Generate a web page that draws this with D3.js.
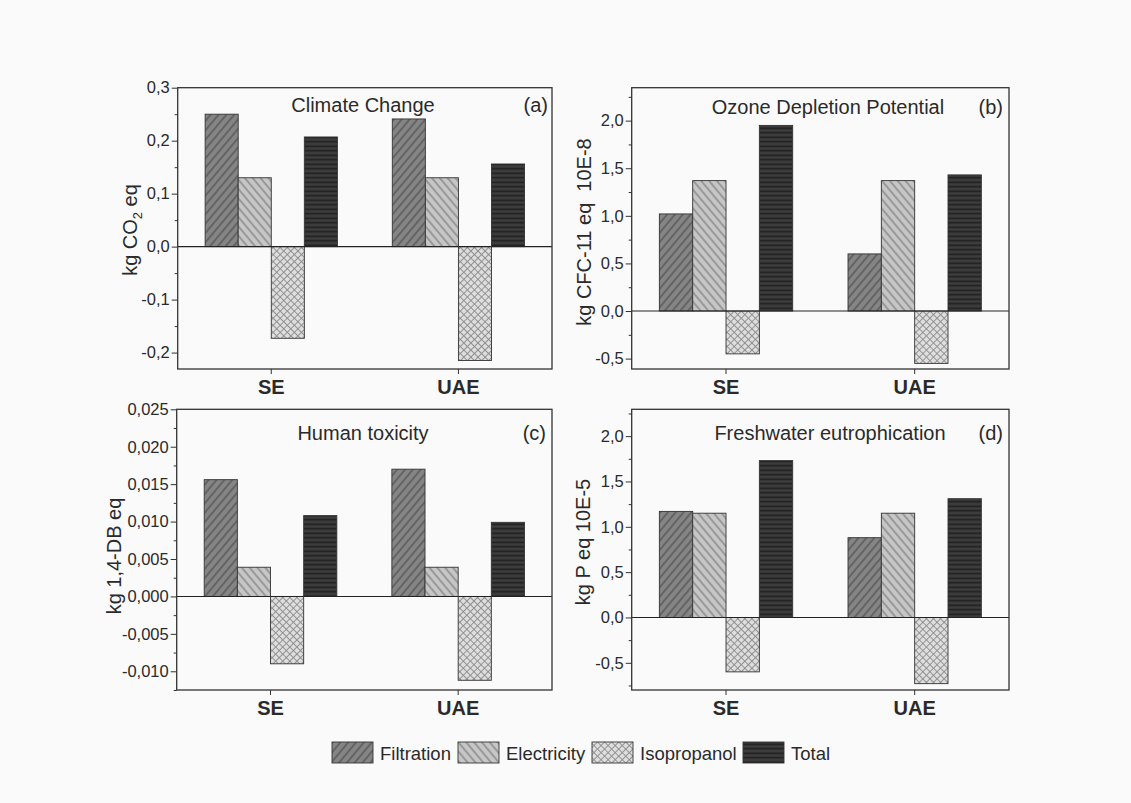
<!DOCTYPE html>
<html>
<head>
<meta charset="utf-8">
<script src="https://cdn.jsdelivr.net/npm/d3@7"></script>
<style>
  body { margin: 0; background: #fafafa; }
  svg { display: block; }
  text { font-family: "Liberation Sans", Arial, sans-serif; fill: #2a2a2a; }
</style>
</head>
<body>
<script>
// data
const categories = ["SE", "UAE"];
const series = ["Filtration", "Electricity", "Isopropanol", "Total"];

// values per category, in series order
const climateChange = [[0.250, 0.130, -0.173, 0.207], [0.241, 0.130, -0.215, 0.156]];
const ozoneDepletion = [[1.02, 1.37, -0.45, 1.95], [0.60, 1.37, -0.55, 1.43]];
const humanToxicity = [[0.0156, 0.0039, -0.0090, 0.0108], [0.0170, 0.0039, -0.0112, 0.0099]];
const freshwaterEutro = [[1.17, 1.15, -0.60, 1.73], [0.88, 1.15, -0.73, 1.31]];

const ticksA = [-0.2, -0.1, 0.0, 0.1, 0.2, 0.3];
const ticksB = [-0.5, 0.0, 0.5, 1.0, 1.5, 2.0];
const ticksC = [-0.010, -0.005, 0.000, 0.005, 0.010, 0.015, 0.020, 0.025];
const ticksD = [-0.5, 0.0, 0.5, 1.0, 1.5, 2.0];

const W = 1131, H = 803;

const loc = d3.formatLocale({decimal: ",", thousands: ".", grouping: [3], currency: ["", ""], minus: "-"});

const svg = d3.select("body").append("svg")
  .attr("width", W)
  .attr("height", H);

// hatch patterns
const defs = svg.append("defs");

function stripes(id, bg, fg, angle, size) {
  const p = defs.append("pattern")
    .attr("id", id)
    .attr("patternUnits", "userSpaceOnUse")
    .attr("width", size).attr("height", size)
    .attr("patternTransform", "rotate(" + angle + ")");
  p.append("rect").attr("width", size).attr("height", size).attr("fill", bg);
  p.append("line").attr("x1", 0).attr("y1", size / 2).attr("x2", size).attr("y2", size / 2)
    .attr("stroke", fg).attr("stroke-width", 1.6);
}
stripes("pat-Filtration", "#858585", "#5c5c5c", -50, 6);
stripes("pat-Electricity", "#c6c6c6", "#8e8e8e", 50, 6);
stripes("pat-Total", "#3d3d3d", "#1f1f1f", 0, 4.5);

const cross = defs.append("pattern")
  .attr("id", "pat-Isopropanol")
  .attr("patternUnits", "userSpaceOnUse")
  .attr("width", 5).attr("height", 5)
  .attr("patternTransform", "rotate(45)");
cross.append("rect").attr("width", 5).attr("height", 5).attr("fill", "#dedede");
cross.append("path").attr("d", "M0,2.5H5M2.5,0V5").attr("stroke", "#8a8a8a").attr("stroke-width", 0.9);

const panels = [
  {data: climateChange, ticks: ticksA, dp: 1, domain: [-0.231, 0.3],
   x: [177.7, 552], y: [87.7, 369], title: "Climate Change", tag: "(a)",
   titleX: 363, titleY: 112, tagX: 548, label: "co2", labelX: 137, labelY: 230},
  {data: ozoneDepletion, ticks: ticksB, dp: 1, domain: [-0.609, 2.346],
   x: [631.7, 1009], y: [87.7, 369], title: "Ozone Depletion Potential", tag: "(b)",
   titleX: 828, titleY: 114, tagX: 1003, label: "kg CFC-11 eq  10E-8", labelX: 591, labelY: 232},
  {data: humanToxicity, ticks: ticksC, dp: 3, domain: [-0.0125, 0.025],
   x: [176.7, 552], y: [409.3, 690], title: "Human toxicity", tag: "(c)",
   titleX: 363, titleY: 440, tagX: 546, label: "kg 1,4-DB eq", labelX: 121, labelY: 556},
  {data: freshwaterEutro, ticks: ticksD, dp: 1, domain: [-0.80, 2.296],
   x: [631.7, 1009], y: [409.3, 690], title: "Freshwater eutrophication", tag: "(d)",
   titleX: 830, titleY: 440, tagX: 1003, label: "kg P eq 10E-5", labelX: 590, labelY: 542}
];

panels.forEach(function(p) {
  const g = svg.append("g");

  const x0 = d3.scaleBand().domain(categories).range(p.x).padding(0);
  const x1 = d3.scaleBand().domain(series).range([0, x0.bandwidth()])
    .paddingInner(0).paddingOuter(0.83);
  const y = d3.scaleLinear().domain(p.domain).range([p.y[1], p.y[0]]);

  // bars
  categories.forEach(function(c, ci) {
    g.append("g")
      .attr("transform", "translate(" + x0(c) + ",0)")
      .selectAll("rect")
      .data(series.map(function(s, si) { return {s: s, v: p.data[ci][si]}; }))
      .enter()
      .append("rect")
      .attr("x", function(d) { return x1(d.s); })
      .attr("y", function(d) { return y(Math.max(0, d.v)); })
      .attr("width", x1.bandwidth())
      .attr("height", function(d) { return Math.abs(y(d.v) - y(0)); })
      .attr("fill", function(d) { return "url(#pat-" + d.s + ")"; })
      .attr("stroke", "#333")
      .attr("stroke-width", 0.9);
  });

  // zero line
  g.append("line")
    .attr("x1", p.x[0]).attr("x2", p.x[1])
    .attr("y1", y(0)).attr("y2", y(0))
    .attr("stroke", "#222").attr("stroke-width", 1.1);

  // frame
  g.append("rect")
    .attr("x", p.x[0]).attr("y", p.y[0])
    .attr("width", p.x[1] - p.x[0]).attr("height", p.y[1] - p.y[0])
    .attr("fill", "none").attr("stroke", "#333").attr("stroke-width", 1.3);

  // y axis, major + minor
  const step = p.ticks[1] - p.ticks[0];
  const minors = d3.range(p.ticks[0] - step / 2, p.ticks[p.ticks.length - 1] + step, step)
    .filter(function(v) { return v >= p.domain[0] && v <= p.domain[1]; });

  const yAxis = g.append("g")
    .attr("transform", "translate(" + p.x[0] + ",0)")
    .call(d3.axisLeft(y).tickValues(p.ticks).tickFormat(loc.format("." + p.dp + "f"))
      .tickSize(6).tickSizeOuter(0).tickPadding(2));
  yAxis.select(".domain").remove();
  yAxis.selectAll("line").attr("stroke", "#333");
  yAxis.attr("font-size", 16.5).attr("font-family", "'Liberation Sans', Arial, sans-serif");
  yAxis.selectAll("text").attr("fill", "#2a2a2a");

  const yMinor = g.append("g")
    .attr("transform", "translate(" + p.x[0] + ",0)")
    .call(d3.axisLeft(y).tickValues(minors).tickFormat("").tickSize(3).tickSizeOuter(0));
  yMinor.select(".domain").remove();
  yMinor.selectAll("line").attr("stroke", "#333");

  // x axis
  const xAxis = g.append("g")
    .attr("transform", "translate(0," + p.y[1] + ")")
    .call(d3.axisBottom(x0).tickSize(5).tickSizeOuter(0).tickPadding(6));
  xAxis.select(".domain").remove();
  xAxis.selectAll("line").attr("stroke", "#333");
  xAxis.attr("font-size", 20).attr("font-weight", "bold")
    .attr("font-family", "'Liberation Sans', Arial, sans-serif");
  xAxis.selectAll("text").attr("fill", "#1a1a1a");

  // title and tag
  g.append("text")
    .attr("x", p.titleX).attr("y", p.titleY)
    .attr("text-anchor", "middle").attr("font-size", 20)
    .text(p.title);
  g.append("text")
    .attr("x", p.tagX).attr("y", p.titleY)
    .attr("text-anchor", "end").attr("font-size", 20)
    .text(p.tag);

  // y label
  const lab = g.append("text")
    .attr("transform", "translate(" + p.labelX + "," + p.labelY + ") rotate(-90)")
    .attr("text-anchor", "middle").attr("font-size", 20)
    .style("white-space", "pre");
  if (p.label === "co2") {
    lab.append("tspan").text("kg CO");
    lab.append("tspan").attr("font-size", 13).attr("dy", 5).text("2");
    lab.append("tspan").attr("dy", -5).text(" eq");
  } else {
    lab.text(p.label);
  }
});

// legend
const legendX = [332, 458, 592, 743];
const legend = svg.append("g").attr("transform", "translate(0,742)");
series.forEach(function(s, i) {
  legend.append("rect")
    .attr("x", legendX[i]).attr("y", 0)
    .attr("width", 41).attr("height", 21)
    .attr("fill", "url(#pat-" + s + ")")
    .attr("stroke", "#333").attr("stroke-width", 0.9);
  legend.append("text")
    .attr("x", legendX[i] + 48).attr("y", 18)
    .attr("font-size", 18.5)
    .text(s);
});
</script>
</body>
</html>
